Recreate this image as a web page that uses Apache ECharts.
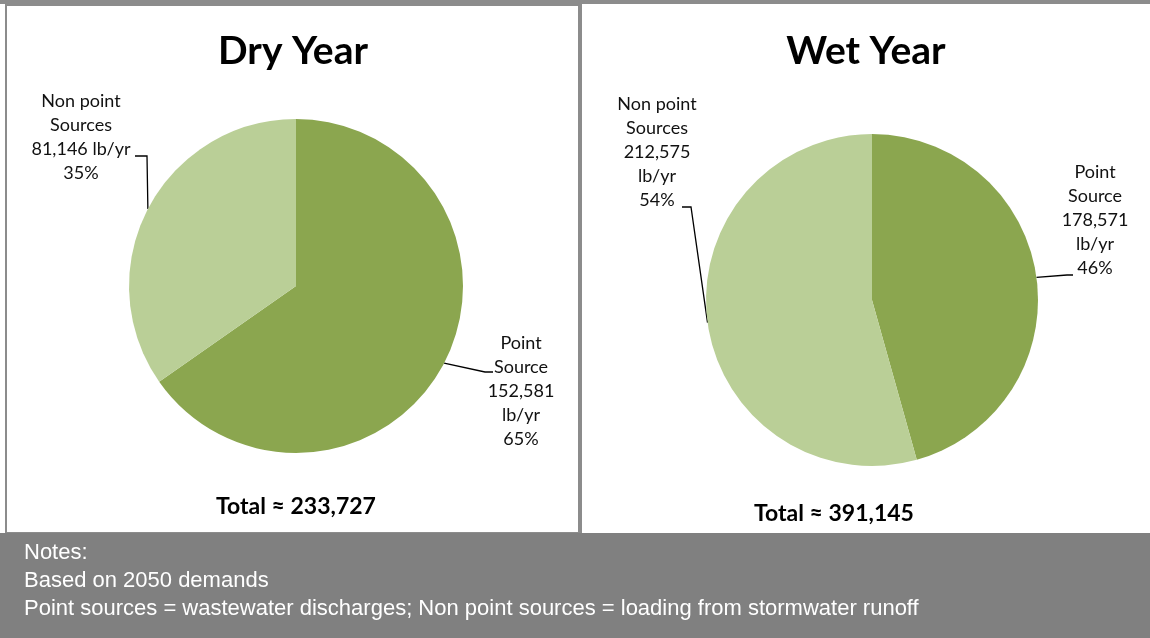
<!DOCTYPE html>
<html>
<head>
<meta charset="utf-8">
<title>Pollutant Loading by Source</title>
<script src="https://cdn.jsdelivr.net/npm/echarts@6/dist/echarts.min.js"></script>
<style>
  html, body { margin: 0; padding: 0; background: #ffffff; }
  #chart { width: 1150px; height: 638px; }
</style>
</head>
<body>
<div id="chart"></div>
<script>
// Source categories (point sources first, drawn clockwise from 12 o'clock)
const categories = ['Point Source', 'Non point Sources'];
const labelNames = [['Point', 'Source'], ['Non point', 'Sources']];

// Annual loading, lb/yr
const dryYearValues = [152581, 81146];
const wetYearValues = [178571, 212575];

// Panel headings and totals
const panelTitles = ['Dry Year', 'Wet Year'];
const totalLabels = ['Total \u2248 233,727', 'Total \u2248 391,145'];

// Whether the "lb/yr" unit sits on its own label line
const dryUnitOwnLine = [true, false];
const wetUnitOwnLine = [true, true];

const notesLines = [
  'Notes:',
  'Based on 2050 demands',
  'Point sources = wastewater discharges; Non point sources = loading from stormwater runoff'
];

const COLORS = ['#8ba64f', '#bacf97'];
const LABEL_FONT = 'Lato, "Open Sans", sans-serif';

// Label placement per pie slice: text centre x, text top y, leader elbow and end
const labelPlacement = [
  [ // dry year
    { x: 521, y: 331, elbow: [485, 372], end: [493, 372] },
    { x: 81, y: 89, elbow: [147, 156], end: [135, 156] }
  ],
  [ // wet year
    { x: 1095, y: 160, elbow: [1067, 275], end: [1073, 275] },
    { x: 657, y: 92, elbow: [691, 207], end: [682, 207] }
  ]
];

function fmt(v) { return v.toLocaleString('en-US'); }

function buildData(values, unitOwnLine) {
  return values.map(function (v, i) {
    return {
      name: categories[i],
      value: v,
      itemStyle: { color: COLORS[i] },
      unitOwnLine: unitOwnLine[i]
    };
  });
}

function labelFormatter(unitFlags) {
  return function (p) {
    const lines = labelNames[p.dataIndex].slice();
    if (unitFlags[p.dataIndex]) {
      lines.push(fmt(p.value), 'lb/yr');
    } else {
      lines.push(fmt(p.value) + ' lb/yr');
    }
    lines.push(Math.round(p.percent) + '%');
    return lines.join('\n');
  };
}

function pieSeries(idx, values, unitFlags, center, radius) {
  return {
    type: 'pie',
    name: panelTitles[idx],
    center: center,
    radius: radius,
    startAngle: 90,
    clockwise: true,
    silent: true,
    animation: false,
    emphasis: { disabled: true, scale: false },
    data: buildData(values, unitFlags),
    label: {
      show: true,
      position: 'outside',
      formatter: labelFormatter(unitFlags),
      fontFamily: LABEL_FONT,
      fontSize: 18,
      lineHeight: 24,
      color: '#111111',
      align: 'center'
    },
    labelLine: {
      show: true,
      length: 10,
      length2: 10,
      smooth: false,
      lineStyle: { color: '#000000', width: 1.3 }
    },
    labelLayout: function (params) {
      const place = labelPlacement[idx][params.dataIndex];
      const edge = params.labelLinePoints ? params.labelLinePoints[0] : place.elbow;
      return {
        x: place.x,
        y: place.y,
        align: 'center',
        verticalAlign: 'top',
        labelLinePoints: [edge, place.elbow, place.end]
      };
    }
  };
}

const chart = echarts.init(document.getElementById('chart'), null, { renderer: 'canvas' });

const titleStyle = { fontFamily: LABEL_FONT, fontSize: 39, fontWeight: 'bold', color: '#000000' };
const totalStyle = { fontFamily: LABEL_FONT, fontSize: 23, fontWeight: 'bold', color: '#000000' };

chart.setOption({
  backgroundColor: '#ffffff',
  animation: false,
  title: [
    { text: panelTitles[0], left: 293, top: 32, textAlign: 'center', padding: 0, textStyle: titleStyle },
    { text: panelTitles[1], left: 866, top: 32, textAlign: 'center', padding: 0, textStyle: titleStyle },
    { text: totalLabels[0], left: 296, top: 495, textAlign: 'center', padding: 0, textStyle: totalStyle },
    { text: totalLabels[1], left: 834, top: 502, textAlign: 'center', padding: 0, textStyle: totalStyle }
  ],
  graphic: [
    // top rule
    { type: 'rect', shape: { x: 0, y: 0, width: 1150, height: 4 }, style: { fill: '#8c8c8c' }, silent: true },
    // dry-year panel frame
    { type: 'rect', shape: { x: 6, y: 5, width: 573, height: 528 }, style: { fill: null, stroke: '#8c8c8c', lineWidth: 2 }, silent: true },
    // wet-year panel left edge
    { type: 'line', shape: { x1: 581, y1: 3, x2: 581, y2: 533 }, style: { stroke: '#8c8c8c', lineWidth: 2 }, silent: true },
    // notes band
    { type: 'rect', shape: { x: 0, y: 533, width: 1150, height: 105 }, style: { fill: '#808080' }, silent: true },
    {
      type: 'text', left: 24, top: 539, silent: true,
      style: {
        text: notesLines.join('\n'),
        fill: '#ffffff',
        font: '22px "Liberation Sans", Arial, sans-serif',
        lineHeight: 28
      }
    }
  ],
  series: [
    pieSeries(0, dryYearValues, dryUnitOwnLine, [296, 286], 167),
    pieSeries(1, wetYearValues, wetUnitOwnLine, [872, 300], 166)
  ]
});
</script>
</body>
</html>
